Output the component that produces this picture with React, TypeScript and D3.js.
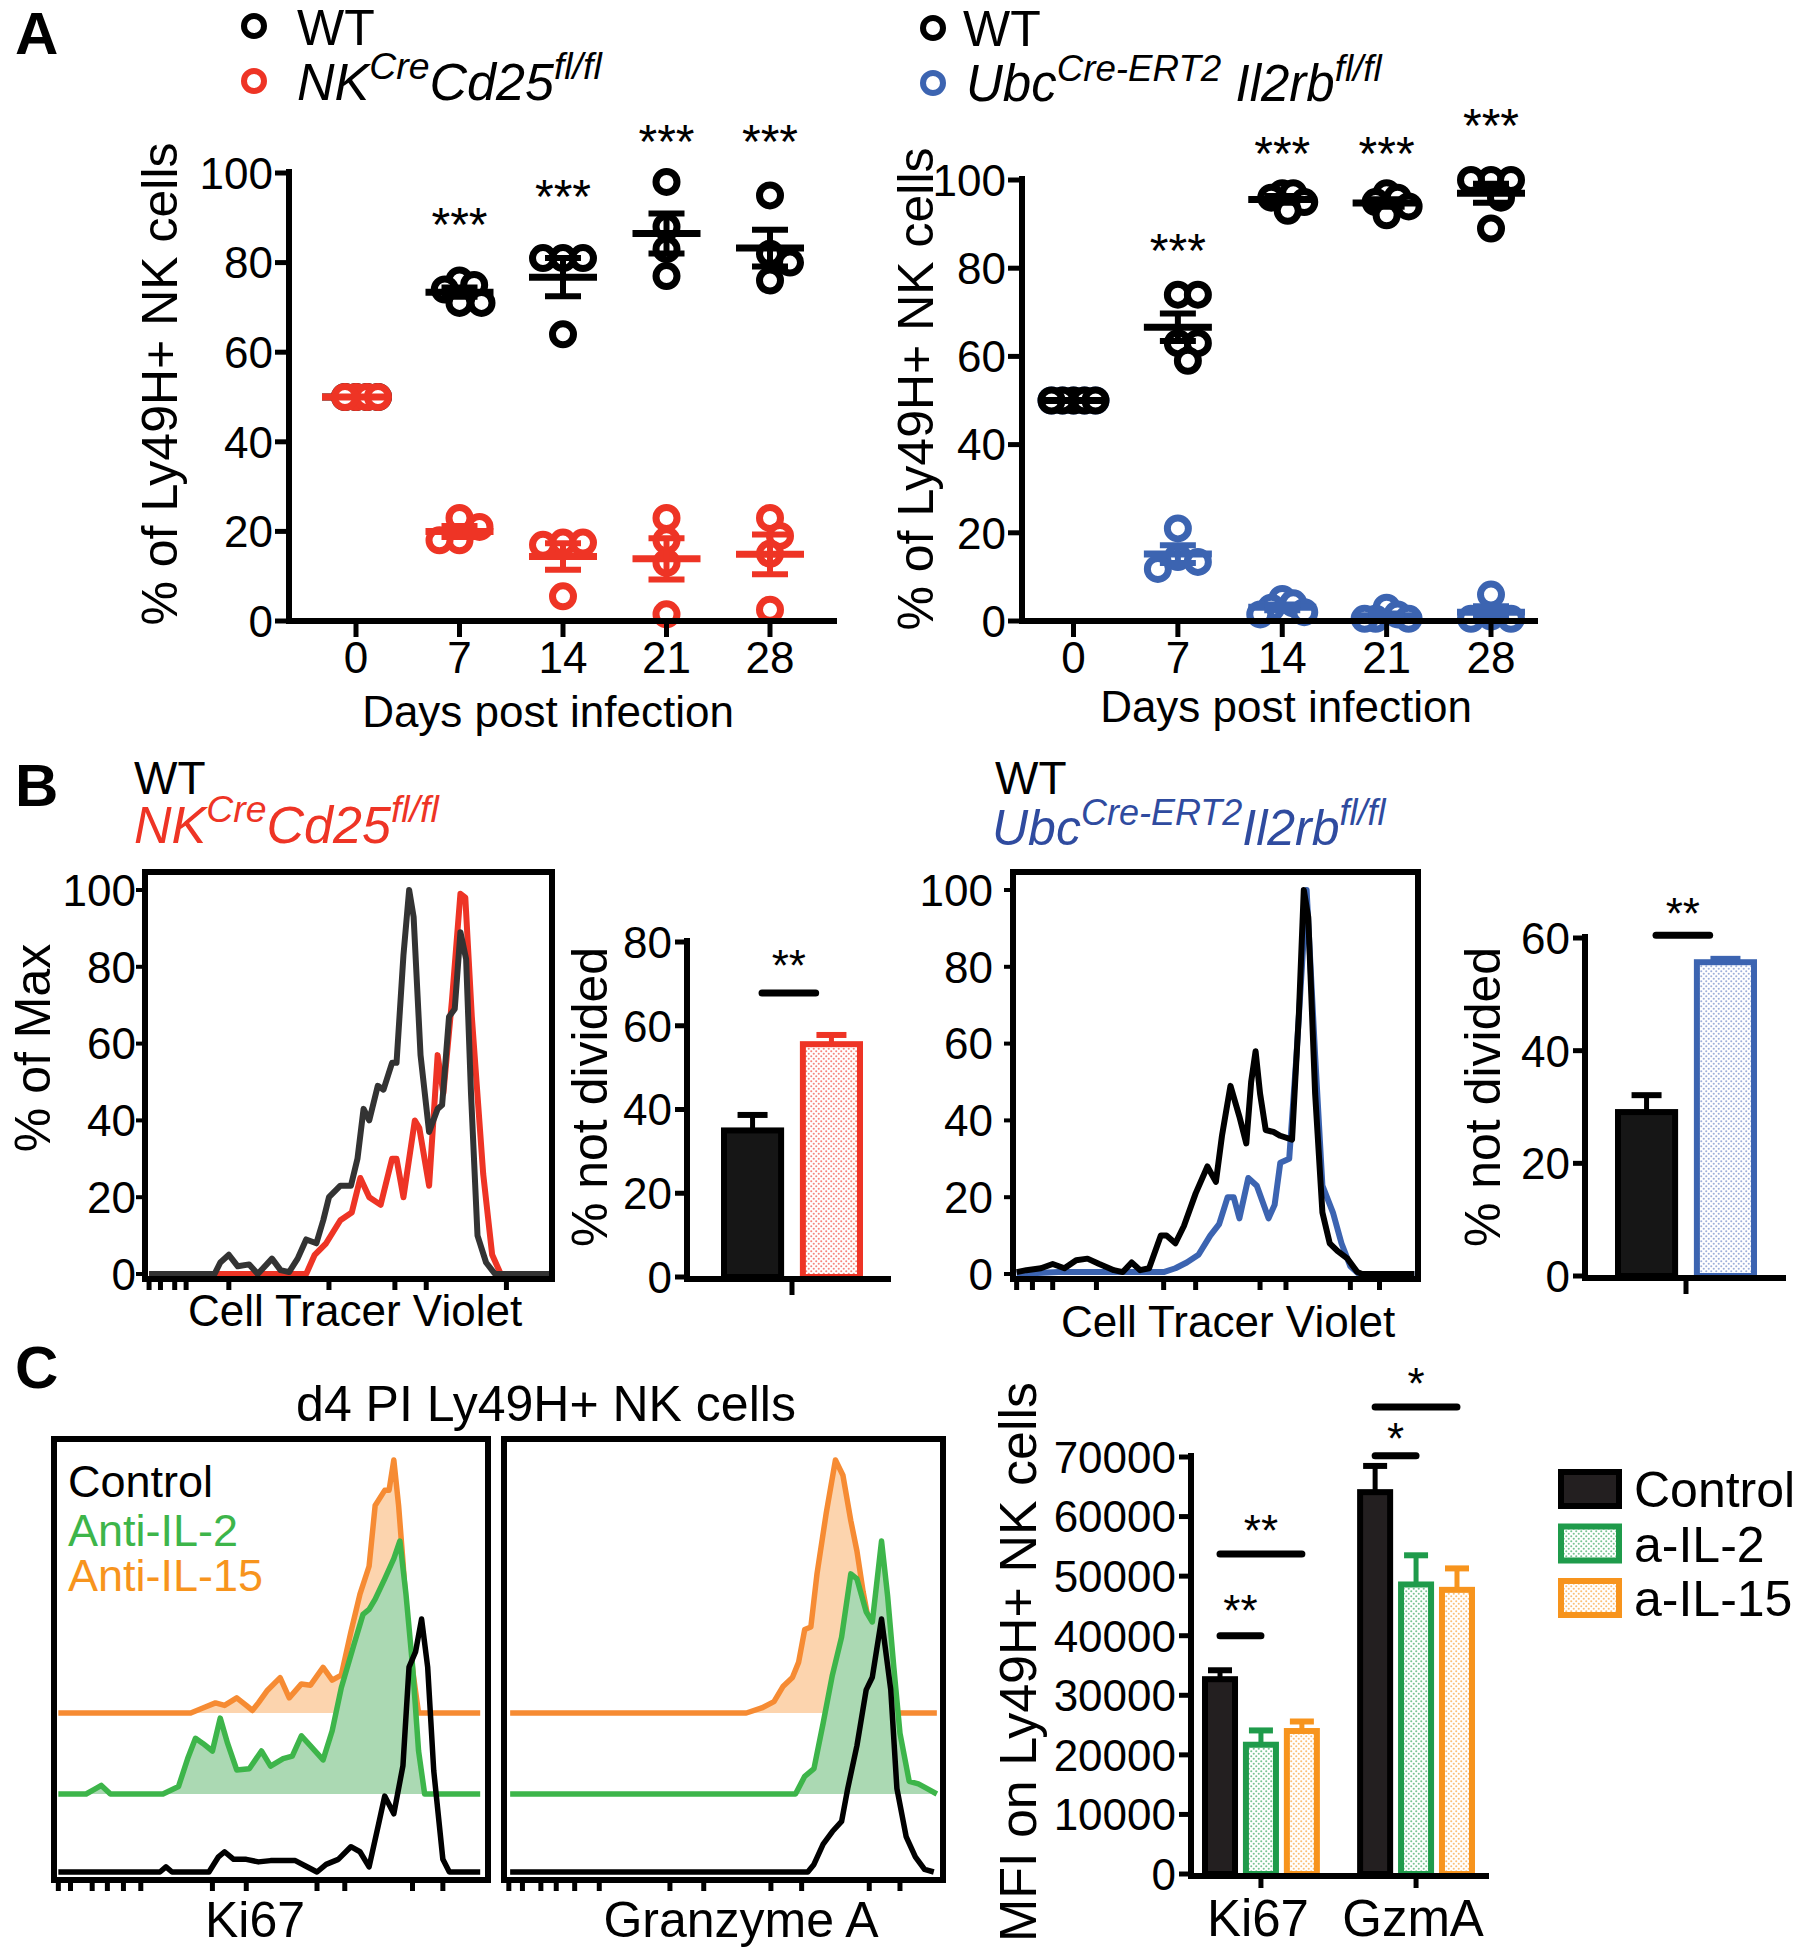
import React from 'react';
import * as d3 from 'd3';

const FONT = "'Liberation Sans', Arial, Helvetica, sans-serif";

const RED = '#ee3425';
const BLUE_A = '#3c64b1';
const BLUE_B = '#2f4b9f';
const GREEN = '#3db54a';
const GREEN_DARK = '#1f9b4b';
const GREEN_FILL = '#abd9b3';
const ORANGE = '#f68b33';
const ORANGE_BAR = '#f7941d';
const ORANGE_FILL = '#fcd4ae';
const DARK = '#333333';

// ---------------- Panel A data ----------------
const days = ['0', '7', '14', '21', '28'];
const cd25WT = [[50, 50, 50, 50], [76, 75, 74, 71, 71], [81, 81, 81, 64], [98, 88, 83, 77], [95, 82, 80, 76]];
const cd25KO = [[50, 50, 50, 50], [23, 21, 18, 18], [17.5, 17.5, 17, 5.5], [23, 18, 13, 1.5], [23, 19, 15, 2.5]];
const cd25StarLevel = [NaN, 91, 97.3, 109.6, 109.6];
const il2rbWT = [[50, 50, 50, 50, 50], [74, 74, 63, 63, 59], [97, 97, 96, 95, 93], [97, 96, 95, 94, 92], [100, 100, 100, 96, 89]];
const il2rbKO = [[50, 50, 50, 50, 50], [21, 14.5, 13.4, 11.8], [5, 4, 3, 2, 1.5], [3, 1.5, 0.5, 0.5, 0.5], [6, 1, 0.5, 0.5]];
const il2rbStarLevel = [NaN, 86.6, 108.6, 108.6, 115];
const starText = ['', '***', '***', '***', '***'];
const pctTicks = [0, 20, 40, 60, 80, 100];

// ---------------- Panel B data ----------------
const cd25HistWT = [[1,0],[17.1,0],[18.5,3],[20.6,5],[22.8,2],[25.6,2.5],[27.7,0],[31.2,4],[33.3,1],[35.4,0.5],[37.5,4],[39.6,9],[42.1,8],[43.8,14],[45.2,20],[48,23],[50.6,23],[52.2,30],[53.7,43],[55.1,40],[57.2,49],[58.6,48],[60.7,55],[61.8,55],[63.5,83],[64.9,100],[66,93],[67.7,57],[69.8,37],[71.9,43],[73,44],[74.7,67],[76.1,69],[77.5,89],[78.9,82],[80.1,47],[81.7,10],[83.8,3],[86,0],[99.3,0]];
const cd25HistKO = [[1,0],[39.6,0],[41.7,5],[44.5,8],[48,14],[50.8,16],[52.9,25],[55.1,20],[57.9,18],[60.7,30],[61.8,30],[63.5,20],[66.3,40],[67.4,38],[69.8,23],[71.9,57],[73.3,47],[75.4,71],[77.5,99],[78.7,98],[80.3,67],[83.1,26],[85.3,5],[87.4,0],[99.3,0]];
const il2rbHistWT = [[0.9,0.5],[3.3,1],[6.9,1.5],[9.8,2.6],[12.7,1.5],[15.6,3.6],[18.4,4],[21.3,2.6],[24.9,1],[27.1,0.5],[29.3,3],[31.4,1],[33.6,1.5],[36.5,10],[37.9,10],[40.1,8],[42.2,12.5],[45.1,21],[48,28],[50.1,24],[51.6,36],[53.7,49],[55.9,41],[57.6,34],[58.8,50],[59.9,58],[61,47],[62.4,37.5],[64.3,37],[66,36],[68.9,35],[70.6,68],[71.8,100],[72.9,93],[74.6,47],[76.4,16],[78.2,8],[80.1,6],[82.6,4],[85,0.5],[86.2,0],[99.1,0]];
const il2rbHistKO = [[0.9,0],[11.2,0.5],[28.5,0.5],[37.2,0.5],[40.1,1.5],[42.9,3],[45.8,5],[48.7,10],[50.9,13],[53,20],[54.5,20],[55.9,14.5],[58.1,25],[60.2,23],[63.1,14.5],[64.6,18],[66,29],[68.2,30],[70,57],[72.5,100],[74.6,57],[76.4,23],[79,16],[81.1,8],[83.3,2],[85.4,0],[99.1,0]];
const cd25CTVTicks = [1, 3.8, 7.3, 10.1, 20.6, 45.2, 61.4, 69.1, 88.8];
const il2rbCTVTicks = [0.9, 4.8, 9.8, 20.6, 37.2, 45.1, 61, 67.4, 83.3, 90.5];
const bGroups = ['WT', 'KO'];
const cd25NotDivided = [35, 55.6];
const cd25NotDividedSem = [3.7, 2.2];
const il2rbNotDivided = [29.1, 55.7];
const il2rbNotDividedSem = [3.0, 0.6];
const cd25Ticks = [0, 20, 40, 60, 80];
const il2rbTicks = [0, 20, 40, 60];

// ---------------- Panel C data ----------------
const ki67Orange = [[1,0],[31.5,0],[34.3,2],[37.2,4],[39.3,3],[42.1,6],[44.3,3],[45.7,1],[47.1,4],[49.2,9],[52.1,14],[54.2,6],[57,11.5],[59.1,11],[62,18],[64.1,13],[66.2,15],[68.4,32],[70.5,47],[72.6,58],[74,82],[76.2,88],[77.2,88],[78.3,100],[79.4,82],[80.4,60],[81.4,35],[82.8,15],[84,0],[98.2,0]];
const ki67Green = [[1,0],[7.4,0],[9.5,2],[10.9,3.4],[13,0],[25.1,0],[28.7,3],[30.8,14],[32.6,22],[34.3,20],[36.5,17],[38.3,30],[40,20],[42.1,9.5],[45,10],[47.8,17],[49.9,11],[52.8,14],[54.9,15],[57,23],[59.1,19],[62,13.5],[64.1,25],[66.2,42],[69.1,59],[71.2,71],[72.6,73],[74,77],[76.2,85],[78.3,93],[79.7,100],[81.1,79],[82.6,51],[84,17],[85.4,0],[98.2,0]];
const ki67Black = [[1,0],[24.4,0],[25.8,2],[27.2,0],[35.7,0],[37.9,6],[39.3,8],[41.4,5],[44.3,5],[47.1,4],[49.9,4.5],[52.8,4.5],[55.6,4.5],[58.4,2],[60.6,0],[62.7,3],[65.5,5],[68.4,10],[70.5,8],[72.6,2],[74.8,19],[76.2,30],[78.3,23],[80.4,42],[81.8,81],[83.3,87],[84.7,100],[86.1,81],[87.5,40],[89.6,5],[91.1,0],[98.2,0]];
const gzmaOrange = [[1.4,0],[55.2,0],[58.7,2],[61.5,4.5],[63.6,10.6],[65.7,14],[67.1,20],[68.5,33],[69.9,34],[71.3,55],[73.4,79],[75.5,100],[77.2,94],[79,76],[80.4,64],[81.8,48],[83.2,35],[84.6,25],[86.7,10],[88.8,0],[98.6,0]];
const gzmaGreen = [[1.4,0],[66.4,0],[68.5,7],[70.6,10],[72.7,28],[74.8,47],[76.9,62],[79,87],[80.4,85],[82.5,72],[83.9,68],[86,100],[87.4,78],[88.8,50],[90.2,24],[92.3,5],[94.4,4],[96.5,2],[98.6,0]];
const gzmaBlack = [[1.4,0],[69.2,0],[70.6,3],[72.7,11],[74.8,16],[76.9,20],[78.3,33],[80.4,50],[82.5,72],[83.9,77],[86,100],[88.1,72],[89.5,33],[91.6,14],[93.7,6],[95.8,1],[97.9,0]];
const ki67Ticks = [1, 3.8, 8.8, 12.3, 16, 20, 36.5, 44.3, 60.6, 67, 82.6, 89.6];
const gzmaTicks = [1.1, 4.2, 8.4, 11.9, 16.1, 21.7, 37.8, 45.5, 60.8, 67.8, 83.2, 90.2];

const mfiGroups = ['Ki67', 'GzmA'];
const mfiSeries = ['Control', 'a-IL-2', 'a-IL-15'];
const mfiControl = [32700, 64100];
const mfiControlSem = [1500, 4400];
const mfiAIL2 = [21700, 48600];
const mfiAIL2Sem = [2400, 4900];
const mfiAIL15 = [24000, 47700];
const mfiAIL15Sem = [1600, 3600];
const mfiTicks = [0, 10000, 20000, 30000, 40000, 50000, 60000, 70000];
const mfiSig = [
  { group: 'Ki67', a: 'Control', b: 'a-IL-2', level: 40000, label: '**', labelLevel: 46000 },
  { group: 'Ki67', a: 'Control', b: 'a-IL-15', level: 53700, label: '**', labelLevel: 59400 },
  { group: 'GzmA', a: 'Control', b: 'a-IL-2', level: 70200, label: '*', labelLevel: 74900 },
  { group: 'GzmA', a: 'Control', b: 'a-IL-15', level: 78400, label: '*', labelLevel: 84100 },
];

const cd25Parts = [{ t: 'NK' }, { t: 'Cre', sup: true }, { t: 'Cd25' }, { t: 'fl/fl', sup: true }];
const il2rbPartsA = [{ t: 'Ubc' }, { t: 'Cre-ERT2', sup: true }, { t: '\u00a0Il2rb' }, { t: 'fl/fl', sup: true }];
const il2rbPartsB = [{ t: 'Ubc' }, { t: 'Cre-ERT2', sup: true }, { t: 'Il2rb' }, { t: 'fl/fl', sup: true }];

// ---------------- helpers ----------------
function swarm(ys: number[], minDist: number, step: number, maxOff: number) {
  const order = d3.range(ys.length).sort((a, b) => ys[a] - ys[b]);
  const placed: { x: number; y: number }[] = [];
  const offs = new Array(ys.length).fill(0);
  for (const i of order) {
    const y = ys[i];
    let k = 0;
    for (;;) {
      const c = k === 0 ? 0 : (k % 2 === 1 ? Math.ceil(k / 2) * step : -Math.ceil(k / 2) * step);
      if (placed.every(p => Math.hypot(p.x - c, p.y - y) >= minDist - 0.01)) {
        offs[i] = c;
        placed.push({ x: c, y });
        break;
      }
      k++;
    }
  }
  const m = d3.max(offs, (o: number) => Math.abs(o)) || 0;
  const s = m > maxOff ? maxOff / m : 1;
  return offs.map((o: number) => o * s);
}

function Geno({ x, y, parts, fs, fill }: any) {
  const sfs = fs * 0.72;
  const shift = fs * 0.4;
  let cur = 0;
  return (
    <text x={x} y={y} fontSize={fs} fill={fill} fontStyle="italic">
      {parts.map((p: any, i: number) => {
        const target = p.sup ? -shift : 0;
        const dy = target - cur;
        cur = target;
        return <tspan key={i} dy={dy} fontSize={p.sup ? sfs : fs}>{p.t}</tspan>;
      })}
    </text>
  );
}

function VText({ x, y, fs, children }: any) {
  return (
    <text transform={`translate(${x},${y}) rotate(-90)`} y={fs * 0.36} textAnchor="middle" fontSize={fs}>
      {children}
    </text>
  );
}

// ---------------- Panel A ----------------
function ScatterPanel({ axisX, axisEnd, xFirst, xLast, yTop, yBottom, wt, ko, koColor, starLevels, koFirst, yTitleX, yTitleY, xTitleX, xTitleY }: any) {
  const y = d3.scaleLinear().domain([0, 100]).range([yBottom, yTop]);
  const x = d3.scalePoint<string>().domain(days).range([xFirst, xLast]);
  const fs = 44;
  const group = (data: number[][], color: string, key: string) =>
    data.map((vals, i) => {
      const cx = x(days[i]) as number;
      const ys = vals.map(v => y(v));
      const offs = swarm(ys, 20, 10, 22);
      const m = d3.mean(vals) as number;
      const se = vals.length > 1 ? (d3.deviation(vals) as number) / Math.sqrt(vals.length) : 0;
      return (
        <g key={key + i} stroke={color} strokeWidth={6}>
          {vals.map((v, j) => <circle key={j} cx={cx + offs[j]} cy={ys[j]} r={10.5} fill="#fff" strokeWidth={7} />)}
          <line x1={cx - 34} x2={cx + 34} y1={y(m)} y2={y(m)} strokeWidth={7} />
          {se > 0 && <line x1={cx} x2={cx} y1={y(m - se)} y2={y(m + se)} />}
          {se > 0 && <line x1={cx - 18} x2={cx + 18} y1={y(m - se)} y2={y(m - se)} />}
          {se > 0 && <line x1={cx - 18} x2={cx + 18} y1={y(m + se)} y2={y(m + se)} />}
        </g>
      );
    });
  const wtG = group(wt, '#000', 'w');
  const koG = group(ko, koColor, 'k');
  return (
    <g>
      {koFirst ? koG : wtG}
      {koFirst ? wtG : koG}
      <line x1={axisX} x2={axisX} y1={yTop - 4} y2={yBottom + 3} stroke="#000" strokeWidth={6} />
      <line x1={axisX - 3} x2={axisEnd} y1={yBottom} y2={yBottom} stroke="#000" strokeWidth={6} />
      {pctTicks.map(t => (
        <g key={t}>
          <line x1={axisX - 14} x2={axisX} y1={y(t)} y2={y(t)} stroke="#000" strokeWidth={5} />
          <text x={axisX - 16} y={y(t) + fs * 0.36} textAnchor="end" fontSize={fs}>{t}</text>
        </g>
      ))}
      {days.map((d, i) => (
        <g key={d}>
          <line x1={x(d)} x2={x(d)} y1={yBottom} y2={yBottom + 16} stroke="#000" strokeWidth={5} />
          <text x={x(d)} y={yBottom + 36 + fs * 0.36} textAnchor="middle" fontSize={fs}>{d}</text>
          {starText[i] && (
            <text x={x(d)} y={y(starLevels[i]) + 28} textAnchor="middle" fontSize={48}>{starText[i]}</text>
          )}
        </g>
      ))}
      <text x={xTitleX} y={xTitleY} textAnchor="middle" fontSize={44}>Days post infection</text>
      <VText x={yTitleX} y={yTitleY} fs={50}>% of  Ly49H+ NK cells</VText>
    </g>
  );
}

// ---------------- Panel B ----------------
function CTVHist({ x0, x1, yTop, yBot, yZero, y100, curves, ticks, labelGap, xLabelX, xLabelY }: any) {
  const x = d3.scaleLinear().domain([0, 100]).range([x0, x1]);
  const y = d3.scaleLinear().domain([0, 100]).range([yZero, y100]);
  const line = d3.line<number[]>().x(d => x(d[0])).y(d => y(d[1]));
  return (
    <g>
      {curves.map((c: any, i: number) => (
        <path key={i} d={line(c.data) as string} fill="none" stroke={c.color} strokeWidth={6} strokeLinejoin="round" />
      ))}
      <rect x={x0} y={yTop} width={x1 - x0} height={yBot - yTop} fill="none" stroke="#000" strokeWidth={6} />
      {pctTicks.map(t => (
        <g key={t}>
          <line x1={x0 - 9} x2={x0} y1={y(t)} y2={y(t)} stroke="#000" strokeWidth={4} />
          <text x={x0 - labelGap} y={y(t) + 44 * 0.36} textAnchor="end" fontSize={44}>{t}</text>
        </g>
      ))}
      {ticks.map((t: number) => (
        <line key={t} x1={x(t)} x2={x(t)} y1={yBot} y2={yBot + 11} stroke="#000" strokeWidth={5} />
      ))}
      <text x={xLabelX} y={xLabelY} textAnchor="middle" fontSize={44}>Cell Tracer Violet</text>
    </g>
  );
}

function NotDividedBars({ axisX, axisEnd, bandStart, bandEnd, yZero, yMaxPx, max, ticks, vals, sems, koColor, koFill, sigLevel, sigLabelLevel, titleX, titleY }: any) {
  const y = d3.scaleLinear().domain([0, max]).range([yZero, yMaxPx]);
  const x = d3.scaleBand<string>().domain(bGroups).range([bandStart, bandEnd]).paddingInner(0.2);
  const bw = x.bandwidth();
  const fs = 44;
  const colors = ['#000', koColor];
  const fills = ['#161616', koFill];
  const tickX = (x('WT')! + bw + x('KO')!) / 2;
  const l1 = x('WT')! + bw * 0.65;
  const l2 = x('KO')! + bw * 0.25;
  return (
    <g>
      {bGroups.map((g, i) => {
        const bx = x(g)!;
        const cx = bx + bw / 2;
        return (
          <g key={g}>
            <line x1={cx} x2={cx} y1={y(vals[i])} y2={y(vals[i] + sems[i])} stroke={colors[i]} strokeWidth={5} />
            <line x1={cx - 15} x2={cx + 15} y1={y(vals[i] + sems[i])} y2={y(vals[i] + sems[i])} stroke={colors[i]} strokeWidth={6} />
            <rect x={bx + 3} y={y(vals[i])} width={bw - 6} height={yZero - y(vals[i])} fill={fills[i]} stroke={colors[i]} strokeWidth={6} />
          </g>
        );
      })}
      <line x1={axisX} x2={axisX} y1={yMaxPx - 4} y2={yZero + 3} stroke="#000" strokeWidth={6} />
      <line x1={axisX - 3} x2={axisEnd} y1={yZero + 2} y2={yZero + 2} stroke="#000" strokeWidth={6} />
      {ticks.map((t: number) => (
        <g key={t}>
          <line x1={axisX - 12} x2={axisX} y1={y(t)} y2={y(t)} stroke="#000" strokeWidth={5} />
          <text x={axisX - 15} y={y(t) + fs * 0.36} textAnchor="end" fontSize={fs}>{t}</text>
        </g>
      ))}
      <line x1={tickX} x2={tickX} y1={yZero} y2={yZero + 18} stroke="#000" strokeWidth={5} />
      <line x1={l1} x2={l2} y1={y(sigLevel)} y2={y(sigLevel)} stroke="#000" strokeWidth={7} strokeLinecap="round" />
      <text x={(l1 + l2) / 2} y={y(sigLabelLevel) + 26} textAnchor="middle" fontSize={44}>**</text>
      <VText x={titleX} y={titleY} fs={50}>% not divided</VText>
    </g>
  );
}

// ---------------- Panel C ----------------
function FlowBox({ x0, x1, yTop, yBot, baseBlack, baseGreen, baseOrange, h, orange, green, black, ticks, label, labelX, labelY }: any) {
  const x = d3.scaleLinear().domain([0, 100]).range([x0, x1]);
  const mk = (base: number) => d3.scaleLinear().domain([0, 100]).range([base, base - h]);
  const yo = mk(baseOrange), yg = mk(baseGreen), yb = mk(baseBlack);
  const area = (ys: any, base: number) => d3.area<number[]>().x(d => x(d[0])).y0(base).y1(d => ys(d[1]));
  const line = (ys: any) => d3.line<number[]>().x(d => x(d[0])).y(d => ys(d[1]));
  return (
    <g>
      <path d={area(yo, baseOrange)(orange) as string} fill={ORANGE_FILL} />
      <path d={line(yo)(orange) as string} fill="none" stroke={ORANGE} strokeWidth={5.5} strokeLinejoin="round" />
      <path d={area(yg, baseGreen)(green) as string} fill={GREEN_FILL} />
      <path d={line(yg)(green) as string} fill="none" stroke={GREEN} strokeWidth={5.5} strokeLinejoin="round" />
      <path d={line(yb)(black) as string} fill="none" stroke="#000" strokeWidth={5.5} strokeLinejoin="round" />
      <rect x={x0} y={yTop} width={x1 - x0} height={yBot - yTop} fill="none" stroke="#000" strokeWidth={6} />
      {ticks.map((t: number) => (
        <line key={t} x1={x(t)} x2={x(t)} y1={yBot} y2={yBot + 11} stroke="#000" strokeWidth={5} />
      ))}
      <text x={labelX} y={labelY} textAnchor="middle" fontSize={50}>{label}</text>
    </g>
  );
}

function MFIBars() {
  const y = d3.scaleLinear().domain([0, 70000]).range([1874, 1457]);
  const gx = d3.scaleBand<string>().domain(mfiGroups).range([1202, 1475]).paddingInner(0.24);
  const sx = d3.scaleBand<string>().domain(mfiSeries).range([0, gx.bandwidth()]).paddingInner(0.12);
  const bw = sx.bandwidth();
  const vals = [mfiControl, mfiAIL2, mfiAIL15];
  const sems = [mfiControlSem, mfiAIL2Sem, mfiAIL15Sem];
  const strokes = ['#000', GREEN_DARK, ORANGE_BAR];
  const fills = ['#231f20', 'url(#dotGreen)', 'url(#dotOrange)'];
  const fs = 44;
  const axisX = 1191;
  const yZero = y(0);
  const cx = (g: string, s: string) => gx(g)! + sx(s)! + bw / 2;
  return (
    <g>
      {mfiGroups.map((g, gi) =>
        mfiSeries.map((s, si) => {
          const v = vals[si][gi];
          const e = sems[si][gi];
          const bx = gx(g)! + sx(s)!;
          const c = bx + bw / 2;
          return (
            <g key={g + s}>
              <line x1={c} x2={c} y1={y(v)} y2={y(v + e)} stroke={strokes[si]} strokeWidth={5} />
              <line x1={c - 12} x2={c + 12} y1={y(v + e)} y2={y(v + e)} stroke={strokes[si]} strokeWidth={6} />
              <rect x={bx + 3} y={y(v)} width={bw - 6} height={yZero - y(v)} fill={fills[si]} stroke={strokes[si]} strokeWidth={6} />
            </g>
          );
        })
      )}
      <line x1={axisX} x2={axisX} y1={y(70000) - 4} y2={yZero + 4} stroke="#000" strokeWidth={6} />
      <line x1={axisX - 3} x2={1489} y1={yZero + 2} y2={yZero + 2} stroke="#000" strokeWidth={6} />
      {mfiTicks.map(t => (
        <g key={t}>
          <line x1={axisX - 12} x2={axisX} y1={y(t)} y2={y(t)} stroke="#000" strokeWidth={5} />
          <text x={axisX - 15} y={y(t) + fs * 0.36} textAnchor="end" fontSize={fs}>{String(t)}</text>
        </g>
      ))}
      {mfiGroups.map(g => {
        const c = gx(g)! + gx.bandwidth() / 2;
        return (
          <g key={g}>
            <line x1={c} x2={c} y1={yZero} y2={yZero + 14} stroke="#000" strokeWidth={5} />
            <text x={c - 3} y={1936} textAnchor="middle" fontSize={51}>{g}</text>
          </g>
        );
      })}
      {mfiSig.map((s, i) => {
        const a = cx(s.group, s.a), b = cx(s.group, s.b);
        return (
          <g key={i}>
            <line x1={a} x2={b} y1={y(s.level)} y2={y(s.level)} stroke="#000" strokeWidth={7} strokeLinecap="round" />
            <text x={(a + b) / 2} y={y(s.labelLevel) + 26} textAnchor="middle" fontSize={44}>{s.label}</text>
          </g>
        );
      })}
      <VText x={1017} y={1662} fs={52}>MFI on Ly49H+ NK cells</VText>
      {mfiSeries.map((s, i) => {
        const ly = 1469 + i * 54.5;
        return (
          <g key={s}>
            <rect x={1561} y={ly + 3} width={58} height={34} fill={fills[i]} stroke={strokes[i]} strokeWidth={6} />
            <text x={1634} y={ly + 20 + 50 * 0.36} fontSize={50}>{s}</text>
          </g>
        );
      })}
    </g>
  );
}

function Dots({ id, color }: any) {
  return (
    <pattern id={id} width={5} height={5} patternUnits="userSpaceOnUse">
      <rect width={5} height={5} fill="#fff" />
      <circle cx={1.25} cy={1.25} r={1.05} fill={color} opacity={0.6} />
      <circle cx={3.75} cy={3.75} r={1.05} fill={color} opacity={0.6} />
    </pattern>
  );
}

export default function App() {
  return (
    <svg width={1800} height={1950} viewBox="0 0 1800 1950"
      style={{ position: 'absolute', left: 0, top: 0, background: '#fff' }} fontFamily={FONT}>
      <defs>
        <Dots id="dotRed" color={RED} />
        <Dots id="dotBlue" color="#5b79c0" />
        <Dots id="dotGreen" color={GREEN_DARK} />
        <Dots id="dotOrange" color={ORANGE_BAR} />
      </defs>
      <rect width={1800} height={1950} fill="#fff" />

      {/* ---------- A ---------- */}
      <text x={15} y={54} fontSize={60} fontWeight="bold">A</text>
      <circle cx={254} cy={26} r={10} fill="#fff" stroke="#000" strokeWidth={6} />
      <text x={297} y={45} fontSize={50}>WT</text>
      <circle cx={254} cy={81} r={10} fill="#fff" stroke={RED} strokeWidth={6} />
      <Geno x={297} y={100} parts={cd25Parts} fs={52} fill="#000" />
      <ScatterPanel axisX={289} axisEnd={837} xFirst={356} xLast={770} yTop={173} yBottom={621}
        wt={cd25WT} ko={cd25KO} koColor={RED} starLevels={cd25StarLevel} koFirst={false}
        yTitleX={159} yTitleY={384} xTitleX={548} xTitleY={727} />

      <circle cx={933} cy={28} r={10} fill="#fff" stroke="#000" strokeWidth={6} />
      <text x={963} y={46} fontSize={50}>WT</text>
      <circle cx={933} cy={83} r={10} fill="#fff" stroke={BLUE_A} strokeWidth={6} />
      <Geno x={966} y={101} parts={il2rbPartsA} fs={51} fill="#000" />
      <ScatterPanel axisX={1022} axisEnd={1538} xFirst={1073.5} xLast={1491} yTop={180} yBottom={621}
        wt={il2rbWT} ko={il2rbKO} koColor={BLUE_A} starLevels={il2rbStarLevel} koFirst={true}
        yTitleX={915} yTitleY={389} xTitleX={1286} xTitleY={722} />

      {/* ---------- B ---------- */}
      <text x={15} y={806} fontSize={60} fontWeight="bold">B</text>
      <text x={134} y={794} fontSize={46}>WT</text>
      <Geno x={134} y={843} parts={cd25Parts} fs={52} fill={RED} />
      <CTVHist x0={145} x1={552} yTop={872} yBot={1279} yZero={1274} y100={890}
        curves={[{ data: cd25HistKO, color: RED }, { data: cd25HistWT, color: DARK }]}
        ticks={cd25CTVTicks} labelGap={9} xLabelX={355} xLabelY={1326} />
      <VText x={32} y={1048} fs={50}>% of Max</VText>
      <NotDividedBars axisX={687} axisEnd={891} bandStart={721} bandEnd={863} yZero={1277} yMaxPx={942}
        max={80} ticks={cd25Ticks} vals={cd25NotDivided} sems={cd25NotDividedSem}
        koColor={RED} koFill="url(#dotRed)" sigLevel={67.8} sigLabelLevel={77}
        titleX={589} titleY={1097} />

      <text x={995} y={794} fontSize={46}>WT</text>
      <Geno x={992} y={845} parts={il2rbPartsB} fs={50} fill={BLUE_B} />
      <CTVHist x0={1013} x1={1418} yTop={872} yBot={1279} yZero={1274} y100={890}
        curves={[{ data: il2rbHistKO, color: BLUE_A }, { data: il2rbHistWT, color: '#000' }]}
        ticks={il2rbCTVTicks} labelGap={20} xLabelX={1228} xLabelY={1337} />
      <NotDividedBars axisX={1585} axisEnd={1786} bandStart={1615} bandEnd={1757} yZero={1276} yMaxPx={938}
        max={60} ticks={il2rbTicks} vals={il2rbNotDivided} sems={il2rbNotDividedSem}
        koColor={BLUE_A} koFill="url(#dotBlue)" sigLevel={60.5} sigLabelLevel={66.2}
        titleX={1482} titleY={1097} />

      {/* ---------- C ---------- */}
      <text x={15} y={1388} fontSize={60} fontWeight="bold">C</text>
      <text x={546} y={1421} textAnchor="middle" fontSize={50}>d4 PI Ly49H+ NK cells</text>
      <FlowBox x0={54} x1={488} yTop={1439} yBot={1880} baseBlack={1872} baseGreen={1794} baseOrange={1713} h={253}
        orange={ki67Orange} green={ki67Green} black={ki67Black} ticks={ki67Ticks}
        label="Ki67" labelX={255} labelY={1937} />
      <FlowBox x0={504} x1={943} yTop={1439} yBot={1880} baseBlack={1872} baseGreen={1794} baseOrange={1713} h={253}
        orange={gzmaOrange} green={gzmaGreen} black={gzmaBlack} ticks={gzmaTicks}
        label="Granzyme A" labelX={741} labelY={1937} />
      <text x={68} y={1497} fontSize={45} fill="#000">Control</text>
      <text x={68} y={1546} fontSize={45} fill={GREEN}>Anti-IL-2</text>
      <text x={68} y={1591} fontSize={45} fill={ORANGE_BAR}>Anti-IL-15</text>
      <MFIBars />
    </svg>
  );
}
